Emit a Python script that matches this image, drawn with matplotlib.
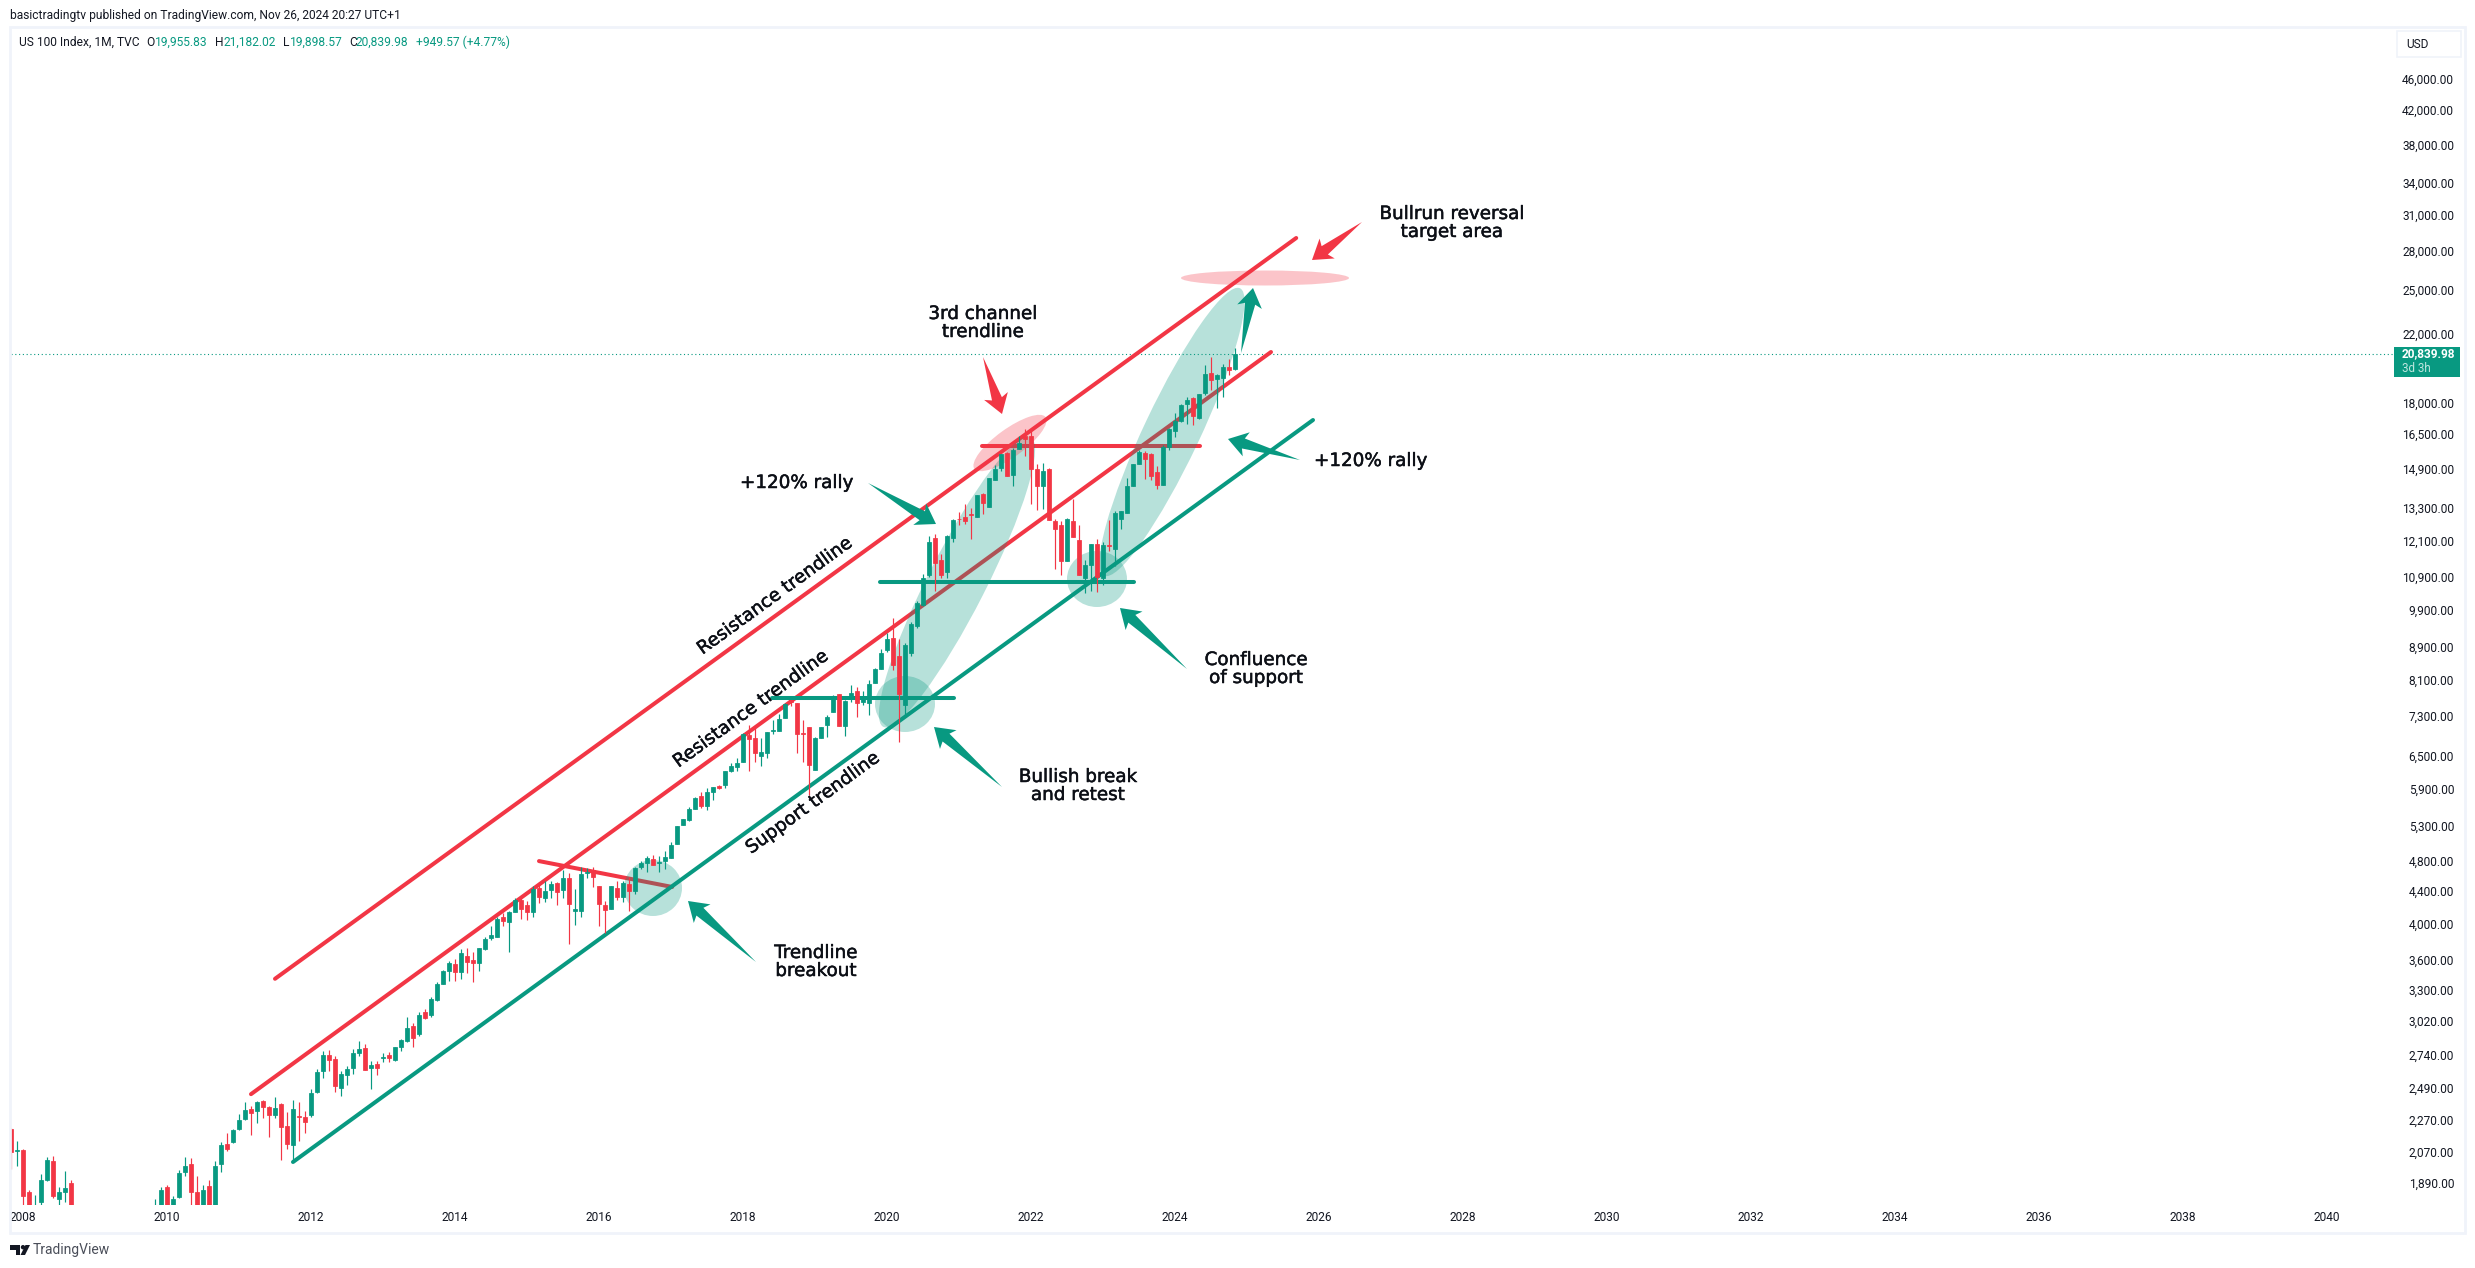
import math
import matplotlib
matplotlib.use("Agg")
import matplotlib.pyplot as plt
import matplotlib.patheffects as pe
from matplotlib.patches import Ellipse, Polygon, Rectangle
from matplotlib.transforms import Affine2D, ScaledTranslation

W, H = 2475, 1268

# month index 0 = Jan 2008; first bar = Nov 2007
opens = [2219, 2080,
    2090, 1849, 1700, 1797, 1915, 2025, 1810, 1849, 1900, 1590, 1330, 1110,
    1211, 1240, 1110, 1240, 1400, 1450, 1480, 1600, 1630, 1720, 1720, 1775,
    1876, 1740, 1825, 1960, 2007, 1850, 1750, 1881, 1760, 2007, 2125, 2140,
    2219, 2284, 2351, 2340, 2405, 2365, 2310, 2385, 2240, 2119, 2305, 2294,
    2310, 2469, 2620, 2748, 2720, 2500, 2590, 2650, 2760, 2805, 2650, 2680,
    2725, 2748, 2712, 2810, 2860, 2990, 2920, 3110, 3085, 3222, 3370, 3500,
    3575, 3490, 3660, 3620, 3590, 3735, 3850, 3860, 4090, 4040, 4150, 4295,
    4240, 4150, 4455, 4330, 4430, 4520, 4430, 4580, 4170, 4170, 4650, 4690,
    4476, 4240, 4195, 4450, 4340, 4510, 4410, 4730, 4785, 4845, 4790, 4810,
    4860, 5060, 5340, 5420, 5590, 5810, 5640, 5870, 5980, 5990, 6240, 6310,
    6400, 6920, 6860, 6530, 6580, 7000, 7000, 7280, 7660, 7600, 6970, 7100,
    6260, 6860, 7130, 7400, 7800, 7120, 7720, 7860, 7620, 7600, 8060, 8380,
    8860, 9160, 8700, 7560, 8770, 9500, 10100, 10990, 12250, 11480, 11100, 12250,
    12950, 13000, 13130, 13000, 13900, 13400, 14470, 14980, 15650, 14700, 15850, 16420,
    16420, 14960, 14250, 14960, 12860, 12730, 11460, 12860, 12190, 10920, 11330, 12035,
    10900, 12010, 11870, 12950, 13150, 14250, 15150, 15650, 15620, 14800, 14260, 15950,
    16660, 17180, 18010, 18330, 17310, 18640, 19720, 19360, 19440, 20080, 19955.83]
highs = [2225, 2143,
    2095, 1860, 1835, 1948, 2047, 2050, 1875, 1965, 1915, 1620, 1400, 1250,
    1320, 1300, 1300, 1420, 1480, 1530, 1610, 1650, 1740, 1775, 1810, 1875,
    1890, 1827, 1970, 2047, 2040, 1935, 1890, 1915, 2020, 2140, 2195, 2220,
    2320, 2398, 2372, 2405, 2415, 2372, 2434, 2395, 2330, 2410, 2398, 2340,
    2490, 2640, 2780, 2790, 2740, 2620, 2660, 2795, 2860, 2840, 2700, 2700,
    2765, 2775, 2815, 2880, 3065, 3010, 3110, 3135, 3250, 3395, 3510, 3605,
    3625, 3730, 3740, 3700, 3745, 3860, 3985, 4090, 4140, 4170, 4330, 4330,
    4290, 4480, 4530, 4540, 4550, 4535, 4690, 4645, 4440, 4725, 4720, 4730,
    4480, 4290, 4480, 4550, 4550, 4590, 4730, 4820, 4880, 4900, 4890, 4960,
    5080, 5320, 5440, 5630, 5800, 5880, 5940, 5960, 5990, 6240, 6390, 6480,
    6970, 7130, 7100, 6860, 6990, 7230, 7370, 7600, 7660, 7600, 7230, 7100,
    6890, 7100, 7350, 7770, 7800, 7660, 8000, 7960, 7860, 8130, 8410, 8880,
    9300, 9715, 9150, 9040, 9600, 10200, 11020, 12300, 12400, 11700, 12360, 12950,
    13210, 13500, 13370, 13865, 13950, 14570, 15140, 15600, 15700, 15870, 16450, 16770,
    16700, 15180, 15210, 15000, 12950, 12850, 12960, 13700, 12700, 11500, 12050, 12200,
    12100, 12880, 13240, 13240, 14550, 15180, 15800, 15750, 15650, 15070, 16000, 16850,
    17560, 18050, 18420, 18420, 18560, 20180, 20640, 19680, 20250, 20550, 21182.02]
lows = [1977, 1994,
    1700, 1720, 1650, 1770, 1910, 1820, 1770, 1797, 1500, 1020, 1040, 1100,
    1120, 1100, 1040, 1220, 1380, 1420, 1420, 1560, 1580, 1650, 1660, 1770,
    1700, 1690, 1820, 1935, 1720, 1700, 1710, 1730, 1745, 1960, 2080, 2130,
    2215, 2277, 2180, 2255, 2290, 2170, 2290, 2030, 2097, 2020, 2143, 2196,
    2300, 2460, 2570, 2620, 2469, 2440, 2520, 2600, 2740, 2630, 2490, 2590,
    2690, 2690, 2700, 2780, 2855, 2810, 2900, 3050, 3065, 3210, 3370, 3400,
    3400, 3420, 3480, 3395, 3500, 3720, 3830, 3860, 3990, 3700, 4150, 4070,
    4060, 4090, 4260, 4280, 4330, 4235, 4325, 3790, 4000, 4100, 4580, 4470,
    3990, 3915, 4195, 4300, 4280, 4170, 4380, 4700, 4660, 4760, 4660, 4710,
    4860, 5060, 5340, 5400, 5590, 5610, 5580, 5750, 5920, 5950, 6220, 6240,
    6400, 6250, 6400, 6330, 6480, 6950, 7000, 7280, 7540, 6580, 6400, 5820,
    6260, 6860, 6890, 7400, 7120, 6900, 7620, 7300, 7560, 7350, 8060, 8380,
    8800, 8350, 6800, 7350, 8700, 9450, 10050, 10950, 10500, 10900, 10920, 12100,
    12700, 12750, 12220, 13000, 13130, 13400, 14470, 14840, 14630, 14250, 15850, 15530,
    13500, 13260, 13300, 12880, 11180, 11000, 11450, 12270, 10990, 10440, 10500, 10490,
    10700, 11800, 11300, 12550, 13150, 14250, 15150, 14540, 14500, 14100, 14260, 15800,
    16400, 17100, 17040, 16970, 17250, 18500, 18800, 17850, 18390, 19590, 19898.57]
closes = [2077, 2087,
    1830, 1754, 1770, 1916, 2030, 1827, 1850, 1870, 1596, 1330, 1110, 1211,
    1238, 1110, 1237, 1397, 1452, 1477, 1599, 1632, 1718, 1717, 1770, 1860,
    1741, 1815, 1955, 1994, 1849, 1750, 1860, 1750, 1994, 2119, 2097, 2213,
    2277, 2344, 2327, 2398, 2365, 2310, 2358, 2232, 2125, 2351, 2295, 2266,
    2462, 2616, 2748, 2712, 2514, 2600, 2640, 2766, 2795, 2630, 2670, 2650,
    2735, 2725, 2810, 2870, 2972, 2890, 3085, 3060, 3229, 3370, 3500, 3590,
    3490, 3690, 3596, 3580, 3740, 3845, 3890, 4070, 4045, 4150, 4300, 4195,
    4150, 4440, 4340, 4415, 4510, 4400, 4580, 4250, 4185, 4640, 4665, 4590,
    4250, 4180, 4476, 4340, 4520, 4420, 4720, 4785, 4860, 4760, 4800, 4870,
    5045, 5320, 5430, 5590, 5777, 5650, 5870, 5960, 5950, 6240, 6330, 6390,
    6950, 6840, 6580, 6590, 6990, 7020, 7260, 7580, 7628, 6950, 6940, 6350,
    6870, 7100, 7290, 7730, 7120, 7640, 7830, 7600, 7720, 8030, 8380, 8780,
    9150, 8480, 7800, 9000, 9560, 10160, 10900, 12100, 11390, 11000, 12310, 12900,
    12925, 12860, 13090, 13865, 13550, 14550, 14960, 15590, 14660, 15800, 16100, 16320,
    14960, 14220, 14850, 12880, 12550, 11455, 12940, 12270, 10990, 11320, 12035, 10950,
    11990, 11960, 13180, 13230, 14250, 15150, 15700, 15400, 14660, 14260, 15950, 16800,
    17180, 18000, 18260, 17410, 18540, 19690, 19350, 19610, 20060, 19870, 20839.98]
first_month = -2

last_price = 20839.98
year_ticks = list(range(2008, 2041, 2))
price_ticks = [46000, 42000, 38000, 34000, 31000, 28000, 25000, 22000, 18000, 16500,
               14900, 13300, 12100, 10900, 9900, 8900, 8100, 7300, 6500, 5900, 5300,
               4800, 4400, 4000, 3600, 3300, 3020, 2740, 2490, 2270, 2070, 1890]

# trendlines: (month index, price) end points
upper_red = ([42, 212.2], [3425, 29140])
middle_red = ([38, 208], [2454, 20960])
support_green = ([45, 215], [2017, 17220])
falling_red = ([86, 108.2], [4813, 4466])
level_green_low = ([124.8, 155.2], [7710, 7710])
level_green_high = ([142.8, 185.2], [10783, 10783])
level_red = ([159.8, 196.2], [15975, 15975])

GREEN = "#089981"
RED = "#f23645"
DARK = "#131722"
LINE = "#f0f3fa"

fig = plt.figure(figsize=(W / 100, H / 100), dpi=100, facecolor="white")
AX_L, AX_R, AX_T, AX_B = 11, 2393, 29, 1205
ax = fig.add_axes([AX_L / W, 1 - AX_B / H, (AX_R - AX_L) / W, (AX_B - AX_T) / H])
for s in ax.spines.values():
    s.set_visible(False)
ax.set_yscale("log")
ax.set_xlim((AX_L - 23) / 6, (AX_R - 23) / 6)
ax.set_ylim(last_price * math.exp((354 - AX_B) / 346), last_price * math.exp((354 - AX_T) / 346))
ax.minorticks_off()

AXFONT = "Roboto"
ax.set_xticks([(y - 2008) * 12 for y in year_ticks], [str(y) for y in year_ticks],
              fontsize=8.6, color=DARK, family=AXFONT)
ax.yaxis.tick_right()
ax.set_yticks(price_ticks, [f"{p:,.2f}" for p in price_ticks],
              fontsize=8.6, color=DARK, family=AXFONT)
ax.tick_params(axis="both", which="both", length=0)
ax.tick_params(axis="x", pad=4.5)
ax.tick_params(axis="y", pad=44)
plt.setp(ax.get_yticklabels(), ha="right")
ax.minorticks_off()
fig.canvas.draw()
shift_up = ScaledTranslation(0, 1.5 / 100, fig.dpi_scale_trans)
for lab in ax.get_yticklabels():
    lab.set_transform(lab.get_transform() + shift_up)

pix = Affine2D().scale(1, -1).translate(0, H)  # pixel coordinates, y downwards

# trendlines (below the translucent ellipses)
for (xs, ys), c in [(upper_red, RED), (middle_red, RED), (falling_red, RED),
                    (support_green, GREEN), (level_green_low, GREEN),
                    (level_green_high, GREEN), (level_red, RED)]:
    ax.plot(xs, ys, color=c, lw=2.9, solid_capstyle="round", zorder=2)

ax.axhline(last_price, color=GREEN, lw=0.8, ls=(0, (1, 2.4)), zorder=1)

# ellipses: centre, length, thickness, direction
TEAL_A = (8 / 255, 153 / 255, 129 / 255, 0.29)
PINK_A = (242 / 255, 54 / 255, 69 / 255, 0.29)
def ell(cx, cy, length, thick, dx, dy, col, z=3):
    ax.add_patch(Ellipse((cx, cy), length, thick, angle=math.degrees(math.atan2(dy, dx)),
                         transform=pix, facecolor=col, edgecolor="none", zorder=z))

ell(653, 888, 58, 56, 1, 0, TEAL_A)
ell(905, 704, 60, 56, 1, 0, TEAL_A)
ell(1097, 579, 60, 56, 1, 0, TEAL_A)
ell(957, 582, 325, 58, 145, -285, TEAL_A)
ell(1172, 432, 318, 56, 133, -281, TEAL_A)
ell(1010, 443, 88, 28, 69, -50, PINK_A)
ell(1265, 278, 168, 15, 1, 0, PINK_A)

# candles
xs = list(range(first_month, first_month + len(closes)))
col = [GREEN if c >= o else RED for o, c in zip(opens, closes)]
ax.vlines(xs, lows, highs, colors=col, lw=0.85, zorder=4)
ax.bar(xs, [abs(c - o) for o, c in zip(opens, closes)],
       bottom=[min(o, c) for o, c in zip(opens, closes)], width=0.72,
       color=col, edgecolor=col, linewidth=0.55, zorder=5)

# arrows
def arrow(tx, ty, px, py, col):
    dx, dy = px - tx, py - ty
    L = math.hypot(dx, dy)
    ux, uy = dx / L, dy / L
    nx, ny = -uy, ux
    hl, hw, sw, nb = 19, 12.5, 5.2, 3
    bx, by = px - ux * hl, py - uy * hl
    nbx, nby = bx + ux * nb, by + uy * nb
    pts = [(tx, ty), (nbx + nx * sw, nby + ny * sw), (bx + nx * hw, by + ny * hw), (px, py),
           (bx - nx * hw, by - ny * hw), (nbx - nx * sw, nby - ny * sw)]
    ax.add_patch(Polygon(pts, closed=True, transform=pix, facecolor=col, edgecolor="none",
                         zorder=6, clip_on=False))

arrow(756, 962, 688, 901, GREEN)
arrow(1002, 787, 934, 727, GREEN)
arrow(868, 483, 936, 524, GREEN)
arrow(1187, 669, 1120, 608, GREEN)
arrow(1300, 460, 1228, 439, GREEN)
arrow(1241, 353, 1253, 288, GREEN)
arrow(983, 357, 1002, 414, RED)
arrow(1362, 222, 1312, 260, RED)

def ftext(x, y, s, **kw):
    return fig.text(x / W, 1 - y / H, s, **kw)

# annotation text
ANN = dict(fontsize=13.2, color="#0c0f16", family="DejaVu Sans", ha="center", va="center",
           linespacing=1.0,
           path_effects=[pe.withStroke(linewidth=0.35, foreground="#0c0f16")])
ftext(816, 962, "Trendline\nbreakout", **ANN)
ftext(1078, 786, "Bullish break\nand retest", **ANN)
ftext(1256, 669, "Confluence\nof support", **ANN)
ftext(797, 483, "+120% rally", **ANN)
ftext(1371, 461, "+120% rally", **ANN)
ftext(983, 323, "3rd channel\ntrendline", **ANN)
ftext(1452, 223, "Bullrun reversal\ntarget area", **ANN)
for x, y, s in [(775, 596, "Resistance trendline"), (751, 709, "Resistance trendline"),
                (813, 803, "Support trendline")]:
    ftext(x, y, s, rotation=36, rotation_mode="anchor", **ANN)

# frame
fig.add_artist(Rectangle((9.5 / W, 1 - 1233 / H), (2465 - 9.5) / W, (1233 - 27) / H,
                         transform=fig.transFigure, fill=False, edgecolor=LINE, lw=2.0, zorder=1))

# header
ftext(10, 15, "basictradingtv published on TradingView.com, Nov 26, 2024 20:27 UTC+1",
      fontsize=8.65, color=DARK, family=AXFONT, va="center", ha="left")
for x, s, c in [(19, "US 100 Index, 1M, TVC", DARK), (146, "O", DARK), (155, "19,955.83", GREEN),
                (215, "H", DARK), (223, "21,182.02", GREEN), (283, "L", DARK),
                (290, "19,898.57", GREEN), (349, "C", DARK), (356, "20,839.98", GREEN),
                (416, "+949.57 (+4.77%)", GREEN)]:
    ftext(x, 42, s, fontsize=8.65, color=c, family=AXFONT, va="center", ha="left")

# price scale extras
fig.add_artist(Rectangle((2397 / W, 1 - 57 / H), 64 / W, 26 / H, transform=fig.transFigure,
                         facecolor="white", edgecolor=LINE, lw=1.2))
ftext(2406, 44, "USD", fontsize=8.6, color=DARK, family=AXFONT, va="center", ha="left")
fig.add_artist(Rectangle((2394 / W, 1 - 377 / H), 66 / W, 30 / H, transform=fig.transFigure,
                         facecolor=GREEN, edgecolor="none", zorder=2))
ftext(2402, 354, f"{last_price:,.2f}", fontsize=8.6, color="white", fontweight="bold",
      family=AXFONT, va="center", ha="left", zorder=4)
ftext(2402, 369, "3d 3h", fontsize=8.4, color="#bfe6df", family=AXFONT, va="center", ha="left", zorder=4)

# logo
for pts in [[(10, 1245), (20, 1245), (20, 1255), (16, 1255), (16, 1249.5), (10, 1249.5)],
            [(25.5, 1245), (30, 1245), (25, 1255), (20.5, 1255)]]:
    fig.add_artist(Polygon([(x / W, 1 - y / H) for x, y in pts], closed=True,
                           transform=fig.transFigure, facecolor=DARK, edgecolor="none"))
fig.add_artist(Ellipse((23 / W, 1 - 1247.2 / H), 4.4 / W, 4.4 / H, transform=fig.transFigure,
                       facecolor=DARK, edgecolor="none"))
ftext(33, 1250, "TradingView", fontsize=10, color="#4a4e59", family=AXFONT, va="center", ha="left")

fig.savefig("out.png", dpi=100, facecolor="white")
